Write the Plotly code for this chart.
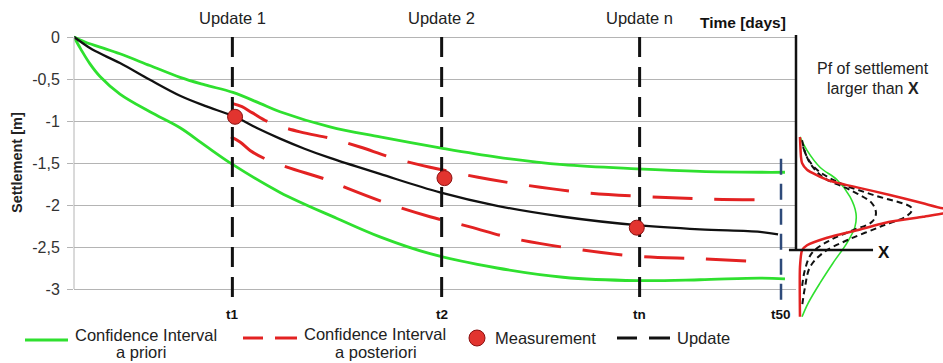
import plotly.graph_objects as go

W, H = 943, 363
FONT = "Liberation Sans, Arial, sans-serif"

# ---------------- data ----------------
# time axis (days)
t_updates = [11.2, 26.0, 40.0]
t_final = 50.0
update_labels = ["Update 1", "Update 2", "Update n"]
time_tick_labels = ["t1", "t2", "tn", "t50"]

y_ticks = [0, -0.5, -1, -1.5, -2, -2.5, -3]
y_tick_text = ["0", "-0,5", "-1", "-1,5", "-2", "-2,5", "-3"]

# mean settlement prediction
mean_t = [0, 0.5, 1.3, 3.25, 5.37, 7.50, 9.26, 11.39, 13.01, 14.57, 16.3, 18.10, 21.64,
          25.88, 29.92, 34.58, 39.82, 44.27, 48.51, 49.79]
mean_s = [0, -0.06, -0.15, -0.31, -0.51, -0.70, -0.82, -0.95, -1.09, -1.21, -1.33, -1.44, -1.63,
          -1.85, -2.01, -2.14, -2.24, -2.29, -2.32, -2.35]

# a priori confidence interval
prior_up_t = [0, 0.78, 1.84, 3.25, 5.37, 7.50, 9.26, 11.24, 13.15, 14.57, 18.10, 21.64, 25.88,
              29.92, 34.58, 39.82, 44.27, 48.51, 50.28]
prior_up_s = [0, -0.06, -0.12, -0.20, -0.34, -0.48, -0.57, -0.66, -0.79, -0.89, -1.07, -1.19, -1.32,
              -1.43, -1.52, -1.57, -1.60, -1.61, -1.61]
prior_lo_t = [0, 0.5, 1.13, 1.84, 3.25, 5.37, 7.50, 9.26, 11.24, 14.57, 18.60, 21.64, 25.18,
              29.92, 34.58, 39.82, 44.27, 48.51, 50.28]
prior_lo_s = [0, -0.15, -0.32, -0.47, -0.68, -0.89, -1.08, -1.29, -1.52, -1.85, -2.16, -2.38, -2.58,
              -2.75, -2.86, -2.90, -2.89, -2.87, -2.88]

# a posteriori confidence interval
post_up_t = [11.17, 11.88, 12.59, 13.86, 15.98, 18.25, 20.23, 22.56, 25.18, 28.57, 31.40, 35.93,
             40.52, 44.98, 49.58]
post_up_s = [-0.79, -0.83, -0.90, -1.02, -1.13, -1.21, -1.31, -1.44, -1.55, -1.67, -1.75, -1.85,
             -1.90, -1.93, -1.94]
post_lo_t = [11.10, 11.74, 12.45, 13.51, 15.06, 17.89, 19.31, 22.14, 25.18, 28.01, 30.83, 35.29,
             39.82, 44.41, 48.87]
post_lo_s = [-1.19, -1.25, -1.35, -1.45, -1.55, -1.70, -1.80, -1.98, -2.14, -2.26, -2.39, -2.52,
             -2.61, -2.64, -2.68]

# measurements
meas_t = [11.39, 26.2, 39.8]
meas_s = [-0.95, -1.68, -2.27]

update_top, update_bottom = 0.0, -3.2
final_top, final_bottom = -1.45, -3.13

# distributions at t50 (relative density, settlement)
pdf_red_d = [0.027, 0.034, 0.041, 0.075, 0.211, 0.415, 0.639, 0.864, 1.0, 1.15, 1.0, 0.864, 0.639,
             0.415, 0.211, 0.075, 0.041, 0.027, 0.027]
pdf_red_s = [-1.19, -1.43, -1.50, -1.58, -1.70, -1.79, -1.88, -1.98, -2.04, -2.07, -2.10, -2.14, -2.20,
             -2.30, -2.39, -2.48, -2.54, -2.74, -3.33]
pdf_green_d = [0.027, 0.075, 0.163, 0.279, 0.367, 0.408, 0.401, 0.347, 0.252, 0.163, 0.082, 0.041]
pdf_green_s = [-1.19, -1.35, -1.55, -1.70, -1.90, -2.10, -2.26, -2.45, -2.69, -2.93, -3.17, -3.33]
pdf_b1_d = [0.041, 0.075, 0.143, 0.299, 0.524, 0.789, 0.762, 0.571, 0.347, 0.184, 0.095, 0.061, 0.041]
pdf_b1_s = [-1.23, -1.43, -1.58, -1.74, -1.88, -2.04, -2.12, -2.26, -2.42, -2.57, -2.74, -2.98, -3.21]
pdf_b2_d = [0.048, 0.095, 0.184, 0.367, 0.517, 0.544, 0.517, 0.388, 0.231, 0.109, 0.061, 0.041]
pdf_b2_s = [-1.31, -1.50, -1.67, -1.82, -1.98, -2.10, -2.20, -2.30, -2.42, -2.57, -2.77, -2.98]

threshold_X = -2.536

# ---------------- colours ----------------
GREEN = "#2fe02f"
RED = "#e32222"
BLACK = "#111111"
BLUE = "#2e4a7a"
GRID = "#b4b4b4"


def px(x):
    return x / W


def py(y):
    return 1 - y / H


fig = go.Figure()

# a priori CI
for tt, ss in [(prior_up_t, prior_up_s), (prior_lo_t, prior_lo_s)]:
    fig.add_trace(go.Scatter(x=tt, y=ss, mode="lines", line=dict(color=GREEN, width=2.8, shape="spline"),
                             hoverinfo="skip"))
# a posteriori CI
for tt, ss in [(post_up_t, post_up_s), (post_lo_t, post_lo_s)]:
    fig.add_trace(go.Scatter(x=tt, y=ss, mode="lines",
                             line=dict(color=RED, width=3, dash="40px,22px", shape="spline"),
                             hoverinfo="skip"))
# mean
fig.add_trace(go.Scatter(x=mean_t, y=mean_s, mode="lines", line=dict(color=BLACK, width=2.3, shape="spline")))
# update lines
for tu in t_updates:
    fig.add_trace(go.Scatter(x=[tu, tu], y=[update_top, update_bottom], mode="lines",
                             line=dict(color=BLACK, width=3, dash="20px,10px")))
fig.add_trace(go.Scatter(x=[t_final, t_final], y=[final_top, final_bottom], mode="lines",
                         line=dict(color=BLUE, width=2.5, dash="16px,9px")))
# measurements
fig.add_trace(go.Scatter(x=meas_t, y=meas_s, mode="markers",
                         marker=dict(size=15, color="#e2342f", line=dict(color="#8a1010", width=1))))

# distributions (right panel)
fig.add_trace(go.Scatter(x=pdf_green_d, y=pdf_green_s, xaxis="x2", yaxis="y2", mode="lines",
                         line=dict(color=GREEN, width=1.6, shape="spline")))
fig.add_trace(go.Scatter(x=pdf_b2_d, y=pdf_b2_s, xaxis="x2", yaxis="y2", mode="lines",
                         line=dict(color=BLACK, width=2, dash="6px,4px", shape="spline")))
fig.add_trace(go.Scatter(x=pdf_b1_d, y=pdf_b1_s, xaxis="x2", yaxis="y2", mode="lines",
                         line=dict(color=BLACK, width=2, dash="6px,4px", shape="spline")))
fig.add_trace(go.Scatter(x=pdf_red_d, y=pdf_red_s, xaxis="x2", yaxis="y2", mode="lines",
                         line=dict(color=RED, width=2.5, shape="spline", smoothing=0.6)))

y_range = [-3.881, 0.4405]

shapes = []
# thin left axis line (0 to -3)
shapes.append(dict(type="line", xref="paper", yref="y", x0=px(74), x1=px(74), y0=0, y1=-3,
                   line=dict(color=GRID, width=1)))
# right panel axes
shapes.append(dict(type="line", xref="x2", yref="y2", x0=0, x1=0, y0=0.024, y1=threshold_X,
                   line=dict(color=BLACK, width=2.5)))
shapes.append(dict(type="line", xref="x2", yref="y2", x0=-0.048, x1=0.524, y0=threshold_X, y1=threshold_X,
                   line=dict(color=BLACK, width=2.5)))

# legend glyphs
shapes.append(dict(type="line", xref="paper", yref="paper", x0=px(25), x1=px(68), y0=py(340), y1=py(340),
                   line=dict(color=GREEN, width=3)))
for a, b in [(243, 263), (275, 297)]:
    shapes.append(dict(type="line", xref="paper", yref="paper", x0=px(a), x1=px(b), y0=py(338), y1=py(338),
                       line=dict(color=RED, width=3)))
shapes.append(dict(type="circle", xref="paper", yref="paper", x0=px(469), x1=px(485), y0=py(330), y1=py(346),
                   fillcolor="#e2342f", line=dict(color="#8a1010", width=1)))
for a, b in [(617, 637), (649, 670)]:
    shapes.append(dict(type="line", xref="paper", yref="paper", x0=px(a), x1=px(b), y0=py(338), y1=py(338),
                       line=dict(color=BLACK, width=3)))

ann = []


def add_text(text, x, y, size=17, bold=False, xanchor="center", color="#222222", angle=0):
    ann.append(dict(text=f"<b>{text}</b>" if bold else text, xref="paper", yref="paper",
                    x=px(x), y=py(y), xanchor=xanchor, yanchor="middle", showarrow=False,
                    textangle=angle, font=dict(family=FONT, size=size, color=color)))


# update labels on top
for tu, lab in zip(t_updates, update_labels):
    ann.append(dict(text=lab, xref="x", yref="paper", x=tu, y=py(18), xanchor="center", yanchor="middle",
                    showarrow=False, font=dict(family=FONT, size=16.5, color="#222222")))
add_text("Time [days]", 788, 23, size=15.5, bold=True, xanchor="right", color="#111111")
# time tick labels
for tu, lab in zip(t_updates + [t_final], time_tick_labels):
    ann.append(dict(text=f"<b>{lab}</b>", xref="x", yref="paper", x=tu, y=py(314), xanchor="center",
                    yanchor="middle", showarrow=False, font=dict(family=FONT, size=13.5, color="#111111")))
# y title
add_text("Settlement [m]", 17, 163, size=14.5, bold=True, color="#222222", angle=-90)
# right panel texts
add_text("Pf of settlement", 873, 68, size=16)
add_text("larger than <b>X</b>", 873, 88, size=16)
add_text("X", 884, 252, size=17, bold=True, color="#111111")
# legend texts
add_text("Confidence Interval", 73, 335, size=16.5, xanchor="left")
add_text("a priori", 141, 352, size=16.5)
add_text("Confidence Interval", 302, 334, size=16.5, xanchor="left")
add_text("a posteriori", 376, 352, size=16.5)
add_text("Measurement", 493, 338, size=16.5, xanchor="left")
add_text("Update", 675, 338, size=16.5, xanchor="left")

fig.update_layout(
    width=W, height=H,
    margin=dict(l=0, r=0, t=0, b=0, pad=0),
    paper_bgcolor="white", plot_bgcolor="rgba(0,0,0,0)",
    showlegend=False,
    xaxis=dict(domain=[74 / W, 796 / W], range=[0, 51.06], visible=False, showgrid=False, zeroline=False,
               fixedrange=True),
    yaxis=dict(domain=[0, 1], range=y_range, tickvals=y_ticks, ticktext=y_tick_text, showgrid=True,
               gridcolor=GRID, gridwidth=1, zeroline=False, showline=False, ticks="outside", ticklen=6,
               tickcolor=GRID, tickfont=dict(family=FONT, size=16, color="#333333"), automargin=False,
               ticklabelstandoff=4),
    xaxis2=dict(domain=[786 / W, 1], range=[-10 / 147, 1.0], visible=False, showgrid=False, zeroline=False,
                anchor="y2"),
    yaxis2=dict(domain=[0, 1], range=y_range, visible=False, showgrid=False, zeroline=False, anchor="x2"),
    shapes=shapes,
    annotations=ann,
)

fig.write_html("out.html")
